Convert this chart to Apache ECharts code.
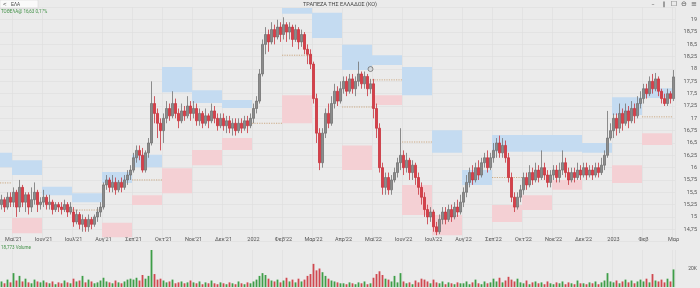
<!DOCTYPE html>
<html>
<head>
<meta charset="utf-8">
<script src="https://cdn.jsdelivr.net/npm/echarts@6/dist/echarts.min.js"></script>
<style>
html,body{margin:0;padding:0;background:#ebebeb;}
#chart{width:700px;height:288px;}
</style>
</head>
<body>
<div id="chart"></div>
<script>
// month ticks on the category axis
const tickIndex = [4,14,24,34,44,54,64,74,84,94,104,114,124,134,144,154,164,174,184,194,204,214,224];
const tickText = ["Μαϊ'21","Ιουν'21","Ιουλ'21","Αυγ'21","Σεπ'21","Οκτ'21","Νοε'21","Δεκ'21","2022","Φεβ'22","Μαρ'22","Απρ'22","Μαϊ'22","Ιουν'22","Ιουλ'22","Αυγ'22","Σεπ'22","Οκτ'22","Νοε'22","Δεκ'22","2023","Φεβ","Μαρ"];

// [open, close, low, high]
const candles = [
  [15.25,15.35,15.15,15.45],[15.35,15.2,15.1,15.4],[15.2,15.4,15.15,15.5],[15.4,15.3,15.2,15.5],
  // May'21
  [15.3,15.5,15.2,15.6],[15.5,15.2,15.0,15.55],[15.2,15.6,15.1,15.75],[15.6,15.3,15.2,15.65],[15.3,15.45,15.1,15.5],
  [15.45,15.2,15.05,15.5],[15.2,15.35,15.1,15.6],[15.35,15.5,15.25,15.7],[15.5,15.25,15.1,15.55],[15.25,15.3,15.15,15.4],
  // Jun'21
  [15.3,15.4,15.2,15.55],[15.4,15.25,15.15,15.45],[15.25,15.3,15.15,15.45],[15.3,15.15,15.05,15.35],[15.15,15.25,15.1,15.3],
  [15.25,15.2,15.1,15.3],[15.2,15.15,15.05,15.3],[15.15,15.25,15.1,15.35],[15.25,15.1,15.0,15.3],[15.1,15.2,15.05,15.3],
  // Jul'21
  [15.1,14.9,14.8,15.2],[14.9,15.05,14.85,15.15],[15.05,14.85,14.75,15.1],[14.85,14.95,14.7,15.05],[14.95,14.8,14.7,15.0],
  [14.8,14.95,14.7,15.05],[14.95,14.85,14.75,15.0],[14.85,15.0,14.8,15.05],[15.0,15.1,14.9,15.2],[15.1,15.2,15.0,15.3],
  // Aug'21
  [15.2,15.65,15.15,15.7],[15.65,15.75,15.55,15.85],[15.75,15.6,15.5,15.8],[15.6,15.7,15.5,15.85],[15.7,15.55,15.45,15.8],
  [15.55,15.7,15.5,15.75],[15.7,15.6,15.5,15.8],[15.6,15.75,15.55,15.85],[15.75,15.85,15.65,15.95],[15.85,15.95,15.75,16.05],
  // Sep'21
  [15.95,16.2,15.9,16.3],[16.2,16.35,16.1,16.45],[16.35,16.25,16.15,16.45],[16.25,15.95,15.9,16.4],[15.95,16.3,15.9,16.35],
  [16.3,16.5,16.2,16.6],[16.5,17.3,16.45,17.75],[17.3,17.1,16.9,17.45],[17.1,16.9,16.6,17.2],[16.9,16.75,16.35,17.0],
  // Oct'21
  [16.75,17.0,16.5,17.1],[17.0,17.2,16.9,17.35],[17.2,17.05,16.95,17.3],[17.05,17.3,17.0,17.55],[17.3,17.1,17.0,17.4],
  [17.1,16.95,16.8,17.2],[16.95,17.15,16.9,17.3],[17.15,17.05,16.95,17.25],[17.05,17.25,17.0,17.45],[17.25,17.1,16.95,17.35],
  // Nov'21
  [17.1,17.2,17.0,17.35],[17.2,16.95,16.85,17.3],[16.95,17.1,16.85,17.2],[17.1,16.9,16.8,17.15],[16.9,17.05,16.85,17.2],
  [17.05,16.95,16.8,17.1],[16.95,17.15,16.9,17.3],[17.15,17.0,16.9,17.25],[17.0,16.85,16.75,17.1],[16.85,17.0,16.8,17.1],
  // Dec'21
  [17.0,16.85,16.75,17.1],[16.85,16.95,16.7,17.05],[16.95,16.8,16.7,17.05],[16.8,16.9,16.65,17.0],[16.9,16.75,16.65,17.0],
  [16.75,16.9,16.7,17.0],[16.9,16.8,16.7,17.0],[16.8,16.95,16.75,17.05],[16.95,16.85,16.7,17.05],[16.85,17.0,16.8,17.1],
  // Jan'22
  [17.0,17.2,16.9,17.3],[17.2,17.35,17.1,17.45],[17.35,17.9,17.3,18.0],[17.9,18.5,17.85,18.6],[18.5,18.7,18.3,18.85],
  [18.7,18.55,18.35,18.8],[18.55,18.8,18.5,18.95],[18.8,18.65,18.5,18.9],[18.65,18.85,18.6,19.0],[18.85,18.7,18.55,18.95],
  // Feb'22
  [18.7,18.9,18.6,19.05],[18.9,18.75,18.55,18.95],[18.75,18.85,18.6,18.95],[18.85,18.6,18.45,18.9],[18.6,18.8,18.55,18.9],
  [18.8,18.55,18.4,18.85],[18.55,18.7,18.45,18.8],[18.7,18.4,18.3,18.75],[18.4,18.3,18.1,18.5],[18.3,18.1,18.0,18.4],
  // Mar'22
  [18.1,17.4,17.3,18.15],[17.4,16.7,16.5,17.5],[16.7,16.1,15.95,16.8],[16.1,16.7,16.0,16.8],[16.7,17.1,16.6,17.2],
  [17.1,16.9,16.8,17.3],[16.9,17.3,16.85,17.45],[17.3,17.55,17.2,17.7],[17.55,17.35,17.25,17.65],[17.35,17.6,17.3,17.75],
  // Apr'22
  [17.6,17.75,17.5,17.85],[17.75,17.55,17.45,17.85],[17.55,17.8,17.5,17.9],[17.8,17.6,17.5,17.9],[17.6,17.75,17.45,17.85],
  [17.75,17.9,17.65,18.15],[17.9,17.7,17.6,17.95],[17.7,17.85,17.6,17.95],[17.85,17.6,17.45,17.9],[17.6,17.7,17.5,17.8],
  // May'22
  [17.7,17.2,17.0,17.8],[17.2,16.8,16.6,17.3],[16.8,16.0,15.9,16.9],[16.0,15.6,15.45,16.1],[15.6,15.8,15.45,15.9],
  [15.8,15.55,15.45,15.9],[15.55,15.75,15.45,15.85],[15.75,15.9,15.7,16.0],[15.9,16.1,15.8,16.2],[16.1,16.25,15.95,16.8],
  // Jun'22
  [16.25,16.0,15.85,16.35],[16.0,16.15,15.9,16.3],[16.15,15.9,15.75,16.2],[15.9,16.05,15.75,16.15],[16.05,15.8,15.65,16.1],
  [15.8,15.6,15.45,15.9],[15.6,15.4,15.25,15.7],[15.4,15.15,15.0,15.5],[15.15,15.0,14.85,15.25],[15.0,15.1,14.9,15.2],
  // Jul'22
  [15.1,14.8,14.7,15.15],[14.8,14.7,14.63,14.9],[14.7,14.95,14.65,15.05],[14.95,15.1,14.85,15.2],[15.1,14.95,14.85,15.2],
  [14.95,15.15,14.9,15.25],[15.15,15.0,14.9,15.25],[15.0,15.2,14.95,15.3],[15.2,15.1,15.0,15.35],[15.1,15.3,15.05,15.45],
  // Aug'22
  [15.3,15.5,15.2,15.6],[15.5,15.7,15.4,15.85],[15.7,15.9,15.6,16.0],[15.9,15.75,15.65,16.05],[15.75,16.0,15.7,16.1],
  [16.0,15.85,15.75,16.15],[15.85,16.1,15.8,16.2],[16.1,16.2,16.0,16.3],[16.2,16.0,15.9,16.35],[16.0,16.2,15.95,16.3],
  // Sep'22
  [16.2,16.35,16.1,16.5],[16.35,16.5,16.2,16.6],[16.5,16.3,16.2,16.65],[16.3,16.45,16.2,16.6],[16.45,16.2,16.1,16.55],
  [16.2,15.8,15.7,16.3],[15.8,15.4,15.3,15.9],[15.4,15.2,15.1,15.5],[15.2,15.4,15.15,15.5],[15.4,15.55,15.3,15.65],
  // Oct'22
  [15.55,15.8,15.45,15.9],[15.8,15.65,15.55,15.9],[15.65,15.9,15.6,16.05],[15.9,15.75,15.65,16.0],[15.75,15.95,15.7,16.1],
  [15.95,15.8,15.7,16.05],[15.8,16.0,15.75,16.35],[16.0,15.85,15.75,16.1],[15.85,15.7,15.6,15.95],[15.7,15.85,15.6,15.95],
  // Nov'22
  [15.85,15.95,15.75,16.05],[15.95,15.8,15.7,16.05],[15.8,15.95,15.7,16.1],[15.95,16.1,15.85,16.35],[16.1,15.9,15.8,16.2],
  [15.9,15.75,15.65,16.0],[15.75,15.9,15.7,16.0],[15.9,15.8,15.7,16.0],[15.8,15.95,15.75,16.1],[15.95,15.85,15.75,16.05],
  // Dec'22
  [15.85,16.0,15.8,16.1],[16.0,15.85,15.75,16.1],[15.85,15.95,15.8,16.05],[15.95,15.85,15.75,16.05],[15.85,16.0,15.8,16.1],
  [16.0,15.9,15.8,16.1],[15.9,16.05,15.85,16.2],[16.05,16.25,15.95,16.35],[16.25,16.6,16.2,17.15],[16.6,16.75,16.55,16.9],
  // Jan'23
  [16.75,17.0,16.6,17.1],[17.0,16.8,16.65,17.1],[16.8,17.1,16.7,17.3],[17.1,16.9,16.75,17.2],[16.9,17.15,16.85,17.3],
  [17.15,16.95,16.8,17.25],[16.95,17.2,16.9,17.35],[17.2,17.05,16.9,17.3],[17.05,17.3,17.0,17.45],[17.3,17.4,17.2,17.55],
  // Feb'23
  [17.4,17.6,17.3,17.7],[17.6,17.5,17.4,17.7],[17.5,17.75,17.45,17.85],[17.75,17.6,17.5,17.9],[17.6,17.8,17.55,17.92],
  [17.8,17.55,17.45,17.85],[17.55,17.4,17.3,17.6],[17.4,17.3,17.25,17.5],[17.3,17.5,17.25,17.6],[17.5,17.4,17.3,17.55],
  // Mar'23
  [17.4,17.84,17.35,17.98]
];

// volume, thousands
const volumes = [
  6,4,8,5,
  15,7,12,6,9,5,4,8,6,5,
  7,5,4,6,3,5,4,7,5,4,
  9,6,7,12,5,8,6,4,5,7,
  10,6,5,4,7,5,4,6,8,9,
  8,10,7,13,9,12,40,14,8,9,
  7,5,6,8,4,5,6,4,5,7,
  5,4,6,3,5,4,7,4,3,5,
  4,3,5,4,3,6,4,3,5,4,
  6,8,12,15,13,9,7,6,8,5,
  7,10,6,8,5,9,6,8,12,14,
  25,18,20,16,12,9,7,6,5,4,
  4,3,5,4,3,5,4,6,3,4,
  10,14,17,13,9,8,6,12,5,15,
  6,4,5,3,7,5,9,8,6,4,
  8,5,4,6,3,5,4,3,5,4,
  4,6,3,5,8,4,3,6,4,5,
  9,6,10,5,7,11,8,6,9,5,
  4,7,3,5,6,4,5,3,6,4,
  3,5,4,6,3,5,4,3,7,4,
  4,3,5,4,6,3,5,7,15,6,
  5,7,4,6,8,5,7,4,6,8,
  6,9,5,14,7,6,8,5,9,6,
  19
];

// monthly zones (first = end of Apr'21)
const zoneStart = [0,4,14,24,34,44,54,64,74,84,94,104,114,124,134,144,154,164,174,184,194,204,214];
const zoneEnd   = [3,13,23,33,43,53,63,73,83,93,103,113,123,133,143,153,163,173,183,193,203,213,223];
const blueLow   = [16.01,15.85,15.44,15.30,15.69,16.01,17.53,17.31,17.21,null,19.12,18.63,17.98,18.08,17.47,16.30,15.65,16.32,16.32,16.32,16.30,17.07,17.41];
const blueHigh  = [16.30,16.15,15.61,15.48,15.91,16.26,18.04,17.57,17.37,null,19.24,19.14,18.49,18.28,18.04,16.76,15.95,16.66,16.66,16.66,16.50,17.43,17.61];
const pinkLow   = [null,14.67,null,null,14.59,15.24,15.48,16.05,16.36,null,16.90,null,15.95,17.27,15.04,14.63,null,14.90,15.14,15.55,null,15.69,16.46];
const pinkHigh  = [null,14.98,null,null,14.88,15.44,15.99,16.36,16.60,null,17.47,null,16.45,17.47,15.65,15.04,null,15.24,15.44,15.75,null,16.05,16.70];
const pivotLevel= [15.69,null,null,15.14,null,15.75,null,null,null,16.90,18.28,null,17.23,17.78,16.52,null,null,15.80,null,null,null,null,17.03];

const lastPrice = 17.84;
const lastVolume = '18,773';
const eventMarks = [[123, 18.0]];

const days = [];
for (let i = 0; i < candles.length; i++) days.push('');
tickIndex.forEach((ix, k) => { days[ix] = tickText[k]; });

const blueBoxes = [], pinkBoxes = [], pivots = [];
zoneStart.forEach((s, k) => {
  if (blueLow[k] != null) blueBoxes.push([s, zoneEnd[k], blueLow[k], blueHigh[k]]);
  if (pinkLow[k] != null) pinkBoxes.push([s, zoneEnd[k], pinkLow[k], pinkHigh[k]]);
  if (pivotLevel[k] != null) pivots.push([s, zoneEnd[k], pivotLevel[k], pivotLevel[k]]);
});

const UP = '#8c8c8c', DOWN = '#d6404a';
const volData = volumes.map((v, i) => ({
  value: v,
  itemStyle: { color: candles[i][1] >= candles[i][0] ? '#3e9e48' : '#d0484f' }
}));

function boxItem(params, api) {
  const band = api.size([1, 0])[0];
  const p1 = api.coord([api.value(0), api.value(3)]);
  const p2 = api.coord([api.value(1), api.value(2)]);
  return {
    type: 'rect',
    shape: { x: p1[0] - band / 2, y: p1[1], width: p2[0] - p1[0] + band, height: p2[1] - p1[1] },
    style: { fill: api.visual('color') }
  };
}
function pivotItem(params, api) {
  const band = api.size([1, 0])[0];
  const p1 = api.coord([api.value(0), api.value(2)]);
  const p2 = api.coord([api.value(1), api.value(2)]);
  return {
    type: 'line',
    shape: { x1: p1[0] - band / 2, y1: p1[1], x2: p2[0] + band / 2, y2: p2[1] },
    style: { stroke: '#c49a6c', lineWidth: 0.8, lineDash: [1.2, 1.2] }
  };
}

const chart = echarts.init(document.getElementById('chart'));
const font = 'Roboto';
const isTick = (i, v) => v !== '';

chart.setOption({
  animation: false,
  backgroundColor: '#ebebeb',
  textStyle: { fontFamily: font },
  grid: [
    { left: 0, right: 25, top: 7.4, height: 234.2 },
    { left: 0, right: 25, top: 250, height: 37 }
  ],
  xAxis: [
    {
      type: 'category', data: days, gridIndex: 0, boundaryGap: true,
      axisLine: { show: false }, axisTick: { show: false },
      axisLabel: { interval: isTick, fontSize: 5.5, color: '#555', margin: -2, verticalAlign: 'middle' },
      splitLine: { show: true, interval: isTick, lineStyle: { color: '#dddddd', width: 0.6 } }
    },
    {
      type: 'category', data: days, gridIndex: 1, boundaryGap: true,
      axisLine: { show: false }, axisTick: { show: false }, axisLabel: { show: false },
      splitLine: { show: true, interval: isTick, lineStyle: { color: '#dddddd', width: 0.6 } }
    }
  ],
  yAxis: [
    {
      type: 'value', gridIndex: 0, position: 'right', scale: true,
      min: 14.5, max: 19.25, interval: 0.25,
      axisLine: { show: false }, axisTick: { show: false },
      axisLabel: {
        fontSize: 5.5, color: '#555', align: 'right', margin: 22,
        showMinLabel: false, showMaxLabel: false,
        formatter: v => String(v).replace('.', ',')
      },
      splitLine: { lineStyle: { color: '#dddddd', width: 0.6 } }
    },
    {
      type: 'value', gridIndex: 1, position: 'right', min: 0, max: 40, interval: 20,
      axisLine: { show: false }, axisTick: { show: false },
      axisLabel: {
        fontSize: 5, color: '#555', align: 'right', margin: 22,
        showMinLabel: false, showMaxLabel: false, formatter: v => v + 'K'
      },
      splitLine: { show: false }
    }
  ],
  series: [
    {
      type: 'custom', name: 'resistance', xAxisIndex: 0, yAxisIndex: 0, clip: true,
      renderItem: boxItem, itemStyle: { color: '#c4dbf1' }, data: blueBoxes, z: 1,
      encode: { x: [0, 1], y: [2, 3] }
    },
    {
      type: 'custom', name: 'support', xAxisIndex: 0, yAxisIndex: 0, clip: true,
      renderItem: boxItem, itemStyle: { color: '#f4d0d4' }, data: pinkBoxes, z: 1,
      encode: { x: [0, 1], y: [2, 3] }
    },
    {
      type: 'custom', name: 'pivot', xAxisIndex: 0, yAxisIndex: 0, clip: true,
      renderItem: pivotItem, data: pivots, z: 2,
      encode: { x: [0, 1], y: [2, 3] }
    },
    {
      type: 'candlestick', name: 'price', xAxisIndex: 0, yAxisIndex: 0, data: candles, z: 3,
      barWidth: '55%',
      itemStyle: { color: UP, color0: DOWN, borderColor: '#727272', borderColor0: '#c8323c', borderWidth: 0.8 },
      markLine: {
        silent: true, symbol: 'none',
        lineStyle: { opacity: 0 },
        label: {
          position: 'end', distance: 4, fontSize: 5.5, padding: [1, 2], borderRadius: 2,
          formatter: p => String(p.value).replace('.', ',')
        },
        data: [
          { yAxis: lastPrice, label: { backgroundColor: '#3f9a47', color: '#fff' } },
          { yAxis: pivotLevel[pivotLevel.length - 1], label: { backgroundColor: '#e2c56a', color: '#333' } }
        ]
      }
    },
    {
      type: 'scatter', xAxisIndex: 0, yAxisIndex: 0, data: eventMarks, symbolSize: 5, z: 4,
      itemStyle: { color: '#d9d9d9', borderColor: '#555', borderWidth: 0.8 }
    },
    {
      type: 'bar', name: 'volume', xAxisIndex: 1, yAxisIndex: 1, data: volData, barWidth: '60%',
      markLine: {
        silent: true, symbol: 'none', lineStyle: { opacity: 0 },
        label: {
          position: 'end', distance: 4, fontSize: 5, padding: [1, 2], borderRadius: 2,
          backgroundColor: '#3f9a47', color: '#fff', formatter: lastVolume
        },
        data: [{ yAxis: volumes[volumes.length - 1] }]
      }
    }
  ],
  graphic: [
    { type: 'rect', shape: { x: 0, y: 0, width: 38, height: 8.5 }, style: { fill: '#fafafa', stroke: '#d0d0d0', lineWidth: 0.5 } },
    { type: 'text', x: 3, y: 4.3, style: { text: '<', fontSize: 6, fill: '#444', verticalAlign: 'middle', font: '6px DejaVu Sans' } },
    { type: 'text', x: 11, y: 4.3, style: { text: 'ΕΛΑ', fontSize: 4.5, fill: '#444', verticalAlign: 'middle', font: '4.5px Roboto' } },
    { type: 'text', x: 340, y: 4.5, style: { text: 'ΤΡΑΠΕΖΑ ΤΗΣ ΕΛΛΑΔΟΣ (ΚΟ)', font: '5.5px Roboto', fill: '#444', align: 'center', verticalAlign: 'middle' } },
    { type: 'text', x: 1, y: 11.5, style: { text: 'ΤΟΘΕΛΑ@ 16,63 0,17%', font: '4.5px Roboto', fill: '#3f8f45', verticalAlign: 'middle' } },
    { type: 'text', x: 1, y: 248, style: { text: lastVolume + ' Volume', font: '4.5px Roboto', fill: '#3f8f45', verticalAlign: 'middle' } },
    { type: 'text', x: 653, y: 4.5, style: { text: '–', font: '6px DejaVu Sans', fill: '#555', align: 'center', verticalAlign: 'middle' } },
    { type: 'text', x: 664, y: 4.5, style: { text: '‖', font: '6px DejaVu Sans', fill: '#555', align: 'center', verticalAlign: 'middle' } },
    { type: 'text', x: 674, y: 4.5, style: { text: '☐', font: '7px DejaVu Sans', fill: '#555', align: 'center', verticalAlign: 'middle' } },
    { type: 'text', x: 684, y: 4.5, style: { text: '⊖', font: '7px DejaVu Sans', fill: '#555', align: 'center', verticalAlign: 'middle' } },
    { type: 'text', x: 694, y: 4.5, style: { text: '≡', font: '7px DejaVu Sans', fill: '#555', align: 'center', verticalAlign: 'middle' } }
  ]
});
</script>
</body>
</html>
